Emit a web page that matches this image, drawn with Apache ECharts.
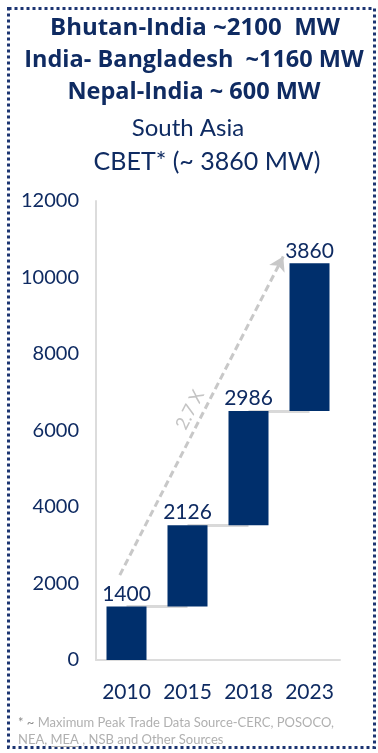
<!DOCTYPE html>
<html>
<head>
<meta charset="utf-8">
<script src="https://cdn.jsdelivr.net/npm/echarts@6/dist/echarts.min.js"></script>
<style>
html,body{margin:0;padding:0;background:#fff;}
#main{width:378px;height:753px;}
</style>
</head>
<body>
<div id="main"></div>
<script>
// ---- data ----
var categories = ['2010', '2015', '2018', '2023'];
var increments = [1400, 2126, 2986, 3860];
var yTicks = [0, 2000, 4000, 6000, 8000, 10000, 12000];
var titleLines = ['Bhutan-India ~2100  MW', 'India- Bangladesh  ~1160 MW', 'Nepal-India ~ 600 MW'];
var subtitleLines = ['South Asia', 'CBET* (~ 3860 MW)'];
var growthLabel = '2.7 X';
// arrow annotation endpoints in (category-position, value) space
var arrowStart = [0.39, 2220];
var arrowEnd = [3.07, 10550];

// invisible bases (cumulative totals before each bar)
var bases = [];
var run = 0;
for (var i = 0; i < increments.length; i++) { bases.push(run); run += increments[i]; }

var NAVY = '#0f2b62';
var BAR = '#002f6c';
var FONT = 'Lato';

var connectors = [];
for (var j = 0; j < categories.length - 1; j++) {
  var lvl = bases[j] + increments[j];
  connectors.push([{ coord: [j, lvl] }, { coord: [j + 1, lvl] }]);
}

var chart = echarts.init(document.getElementById('main'), null, { renderer: 'canvas' });
chart.setOption({
  backgroundColor: '#ffffff',
  animation: false,
  grid: { left: 96, right: 38, top: 201, bottom: 93 },
  xAxis: [{
    type: 'category',
    data: categories,
    axisLine: { show: true, lineStyle: { color: '#dcdcdc', width: 2 } },
    axisTick: { show: false },
    axisLabel: { color: NAVY, fontSize: 21, fontFamily: FONT, margin: 22, interval: 0, hideOverlap: false }
  }, {
    type: 'value', min: 0, max: categories.length, show: false
  }],
  yAxis: {
    type: 'value',
    min: yTicks[0], max: yTicks[yTicks.length - 1], interval: 2000,
    axisLine: { show: true, lineStyle: { color: '#dcdcdc', width: 2 } },
    axisTick: { show: false },
    splitLine: { show: false },
    axisLabel: { color: NAVY, fontSize: 20, fontFamily: FONT, margin: 17, formatter: function (v) { return String(v); } }
  },
  series: [{
    type: 'bar',
    stack: 'w',
    data: bases,
    barWidth: 40,
    itemStyle: { color: 'transparent' },
    z: 1,
    silent: true,
    markLine: {
      silent: true,
      z: 1,
      symbol: ['none', 'none'],
      label: { show: false },
      lineStyle: { color: '#d9d9d9', width: 3, type: 'solid' },
      data: connectors
    }
  }, {
    type: 'bar',
    stack: 'w',
    data: increments,
    barWidth: 40,
    z: 3,
    itemStyle: { color: BAR },
    label: { show: true, position: 'top', distance: 2, color: NAVY, fontSize: 21, fontFamily: FONT }
  }, {
    type: 'scatter',
    xAxisIndex: 1,
    data: [],
    markLine: {
      silent: true,
      z: 4,
      symbol: ['none', 'arrow'],
      symbolSize: [13, 14],
      lineStyle: { color: '#c8c8c8', width: 3, type: [7, 4] },
      label: { show: true, position: 'middle', formatter: growthLabel, color: '#c4c4c4', fontSize: 18, fontFamily: FONT, distance: 4 },
      data: [[{ coord: arrowStart }, { coord: arrowEnd }]]
    }
  }],
  graphic: [
    { type: 'rect', shape: { x: 8.5, y: 8.5, width: 366, height: 739 },
      style: { fill: 'none', stroke: '#1c3572', lineWidth: 3, lineDash: [3, 3] }, silent: true },
    { type: 'text', x: 195, y: 28, style: { text: titleLines[0], fill: NAVY, font: 'bold 24px "Open Sans"', textAlign: 'center', textVerticalAlign: 'middle' } },
    { type: 'text', x: 194, y: 60, style: { text: titleLines[1], fill: NAVY, font: 'bold 23.5px "Open Sans"', textAlign: 'center', textVerticalAlign: 'middle' } },
    { type: 'text', x: 194, y: 92, style: { text: titleLines[2], fill: NAVY, font: 'bold 23.5px "Open Sans"', textAlign: 'center', textVerticalAlign: 'middle' } },
    { type: 'text', x: 188, y: 128, style: { text: subtitleLines[0], fill: NAVY, font: '24px Lato', textAlign: 'center', textVerticalAlign: 'middle' } },
    { type: 'text', x: 207, y: 162, style: { text: subtitleLines[1], fill: NAVY, font: '25px Lato', textAlign: 'center', textVerticalAlign: 'middle' } },
    { type: 'text', x: 18, y: 723, style: {
        text: '{a|* ~} {b|Maximum Peak Trade Data Source-CERC, POSOCO,}',
        textVerticalAlign: 'middle',
        rich: { a: { fill: '#8c8c8c', fontSize: 13, fontFamily: 'Lato' }, b: { fill: '#b0b0b0', fontSize: 13, fontFamily: 'Lato' } } } },
    { type: 'text', x: 18, y: 740, style: {
        text: 'NEA, MEA , NSB and Other Sources',
        fill: '#b0b0b0', fontSize: 13, fontFamily: 'Lato', textVerticalAlign: 'middle' } },
    { type: 'line', shape: { x1: 51, y1: 746.5, x2: 78, y2: 746.5 }, style: { stroke: '#b0b0b0', lineWidth: 1 }, silent: true }
  ]
});
</script>
</body>
</html>
